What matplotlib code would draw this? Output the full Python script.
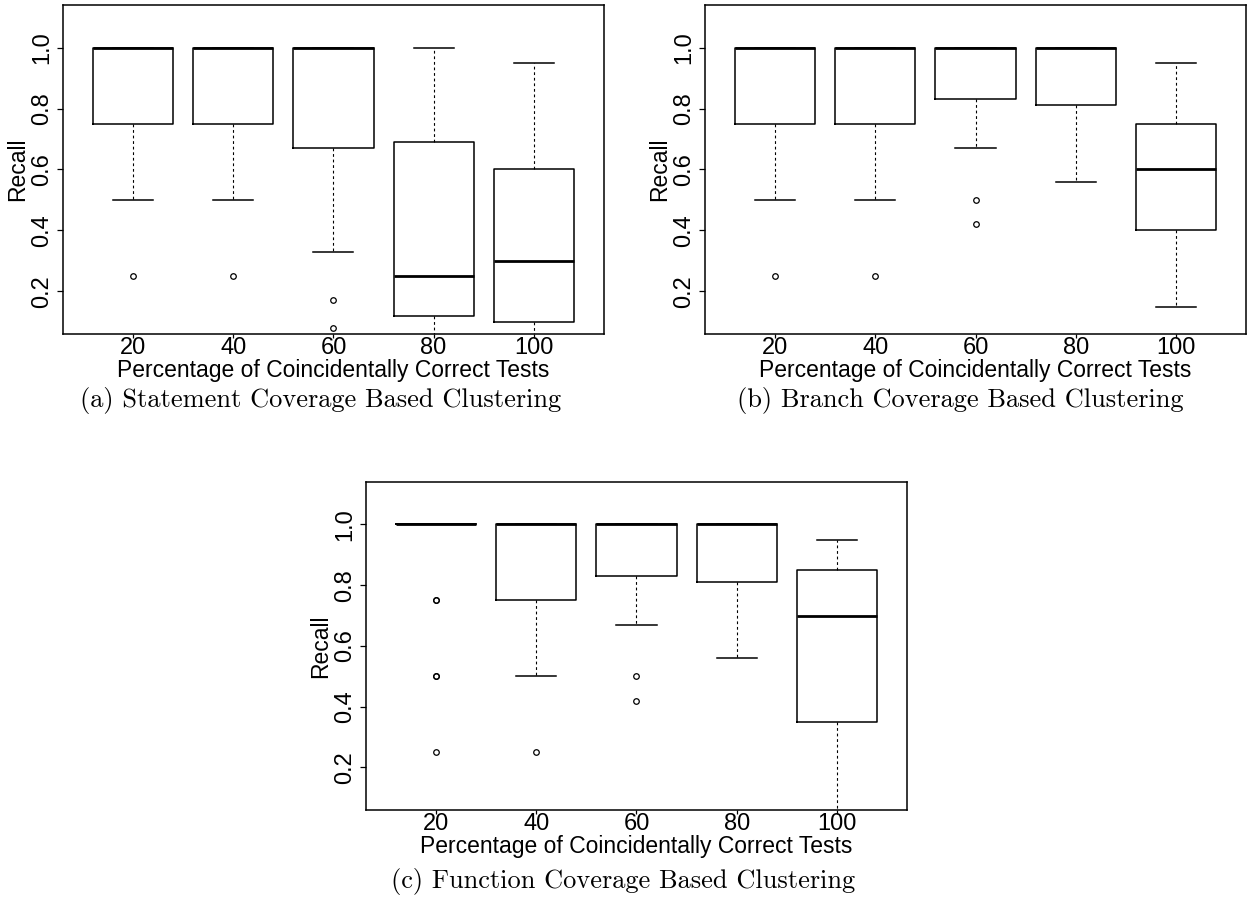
import matplotlib.pyplot as plt

plt.rcParams['font.family'] = ['Liberation Sans', 'DejaVu Sans']

pct_labels = ["20", "40", "60", "80", "100"]

# (a) statement coverage
stmt_q1 = [0.75, 0.75, 0.67, 0.12, 0.10]
stmt_med = [1.00, 1.00, 1.00, 0.25, 0.30]
stmt_q3 = [1.00, 1.00, 1.00, 0.69, 0.60]
stmt_lo = [0.50, 0.50, 0.33, 0.00, 0.00]
stmt_hi = [1.00, 1.00, 1.00, 1.00, 0.95]
stmt_out = [[0.25], [0.25], [0.17, 0.08], [], []]

# (b) branch coverage
branch_q1 = [0.75, 0.75, 0.83, 0.81, 0.40]
branch_med = [1.00, 1.00, 1.00, 1.00, 0.60]
branch_q3 = [1.00, 1.00, 1.00, 1.00, 0.75]
branch_lo = [0.50, 0.50, 0.67, 0.56, 0.15]
branch_hi = [1.00, 1.00, 1.00, 1.00, 0.95]
branch_out = [[0.25], [0.25], [0.50, 0.42], [], []]

# (c) function coverage
func_q1 = [1.00, 0.75, 0.83, 0.81, 0.35]
func_med = [1.00, 1.00, 1.00, 1.00, 0.70]
func_q3 = [1.00, 1.00, 1.00, 1.00, 0.85]
func_lo = [1.00, 0.50, 0.67, 0.56, 0.00]
func_hi = [1.00, 1.00, 1.00, 1.00, 0.95]
func_out = [[0.75, 0.75, 0.50, 0.50, 0.25], [0.25], [0.50, 0.42], [], []]

captions = ["(a) Statement Coverage Based Clustering",
            "(b) Branch Coverage Based Clustering",
            "(c) Function Coverage Based Clustering"]


def make_stats(q1, med, q3, lo, hi, out):
    stats = []
    for i in range(len(q1)):
        stats.append(dict(q1=q1[i], med=med[i], q3=q3[i],
                          whislo=lo[i], whishi=hi[i], fliers=out[i]))
    return stats


def draw_panel(ax, stats):
    pos = list(range(1, len(stats) + 1))
    ax.bxp(stats, positions=pos, widths=0.8, capwidths=0.4,
           manage_ticks=False,
           boxprops=dict(color="black", linewidth=1.1),
           medianprops=dict(color="black", linewidth=2.0),
           whiskerprops=dict(color="black", linewidth=0.8, linestyle=(0, (2.5, 2.5))),
           capprops=dict(color="black", linewidth=1.1),
           flierprops=dict(marker="o", markersize=4, markerfacecolor="none",
                           markeredgecolor="black", markeredgewidth=0.9))
    ax.set_xlim(0.3, 5.7)
    ax.set_ylim(0.06, 1.14)
    ax.set_xticks(pos)
    ax.set_xticklabels(pct_labels, fontsize=17)
    ax.set_yticks([0.2, 0.4, 0.6, 0.8, 1.0])
    ax.set_yticklabels(["0.2", "0.4", "0.6", "0.8", "1.0"], fontsize=17,
                       rotation=90, va="center")
    ax.tick_params(axis="y", length=4.3, width=0.9, pad=2.5)
    ax.tick_params(axis="x", length=3, width=0.9, pad=-0.5)
    ax.set_xlabel("Percentage of Coincidentally Correct Tests", fontsize=16.5, labelpad=0)
    ax.set_ylabel("Recall", fontsize=16.5, labelpad=2)
    for s in ax.spines.values():
        s.set_linewidth(1.1)


fig = plt.figure(figsize=(12.47, 8.99), dpi=100)
ax_a = fig.add_axes([0.0505, 0.6285, 0.4338, 0.366])
ax_b = fig.add_axes([0.5654, 0.6285, 0.4338, 0.366])
ax_c = fig.add_axes([0.2935, 0.099, 0.4338, 0.365])

draw_panel(ax_a, make_stats(stmt_q1, stmt_med, stmt_q3, stmt_lo, stmt_hi, stmt_out))
draw_panel(ax_b, make_stats(branch_q1, branch_med, branch_q3, branch_lo, branch_hi, branch_out))
draw_panel(ax_c, make_stats(func_q1, func_med, func_q3, func_lo, func_hi, func_out))

fig.text(0.2574, 0.555, captions[0], fontsize=19, family="cmr10", ha="center", va="center")
fig.text(0.770, 0.555, captions[1], fontsize=19, family="cmr10", ha="center", va="center")
fig.text(0.4996, 0.019, captions[2], fontsize=19, family="cmr10", ha="center", va="center")

fig.savefig("out.png", dpi=100)
plt.close(fig)
